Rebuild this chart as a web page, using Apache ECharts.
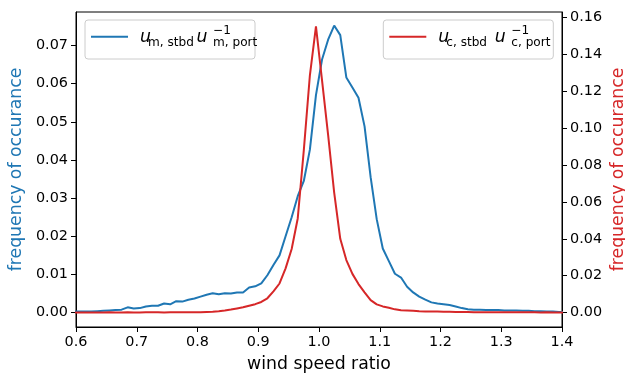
<!DOCTYPE html>
<html>
<head>
<meta charset="utf-8">
<script src="https://cdn.jsdelivr.net/npm/echarts@6/dist/echarts.min.js"></script>
<style>html,body{margin:0;padding:0;background:#fff;}#c{width:625px;height:375px;}</style>
</head>
<body>
<div id="c"></div>
<script>
var ratio = [0.595,0.605,0.615,0.625,0.635,0.645,0.655,0.665,0.675,0.685,0.695,
0.705,0.715,0.725,0.735,0.745,0.755,0.765,0.775,0.785,0.795,
0.805,0.815,0.825,0.835,0.845,0.855,0.865,0.875,0.885,0.895,
0.905,0.915,0.925,0.935,0.945,0.955,0.965,0.975,0.985,0.995,
1.005,1.015,1.025,1.035,1.045,1.055,1.065,1.075,1.085,1.095,
1.105,1.115,1.125,1.135,1.145,1.155,1.165,1.175,1.185,1.195,
1.205,1.215,1.225,1.235,1.245,1.255,1.265,1.275,1.285,1.295,
1.305,1.315,1.325,1.335,1.345,1.355,1.365,1.375,1.385,1.395,1.405];

var freqM = [0.0003,0.0003,0.0003,0.0003,0.0004,0.0005,0.0006,0.0007,0.0008,0.0014,0.0011,
0.0012,0.0016,0.0018,0.0018,0.0024,0.0022,0.0030,0.0029,0.0034,0.0037,
0.0042,0.0047,0.0051,0.0048,0.0051,0.0050,0.0053,0.0053,0.0066,0.0069,
0.0077,0.0098,0.0125,0.0150,0.0200,0.0250,0.0305,0.0345,0.0427,0.0570,
0.0663,0.0715,0.0752,0.0727,0.0616,0.0590,0.0563,0.0488,0.0355,0.0245,
0.0168,0.0135,0.0102,0.0092,0.0068,0.0053,0.0042,0.0034,0.0027,0.0024,
0.0022,0.0020,0.0016,0.0012,0.0009,0.0008,0.0008,0.0007,0.0007,0.0007,
0.0006,0.0006,0.0006,0.0005,0.0005,0.0004,0.0004,0.0003,0.0003,0.0002,0.0002];

var freqC = [0.0001,0.0001,0.0001,0.0001,0.0001,0.0001,0.0002,0.0001,0.0001,0.0002,0.0001,
0.0001,0.0002,0.0002,0.0002,0.0001,0.0002,0.0002,0.0002,0.0002,0.0003,
0.0003,0.0004,0.0005,0.0008,0.0012,0.0017,0.0023,0.0029,0.0038,0.0046,
0.0058,0.0078,0.0115,0.0158,0.0240,0.0345,0.0510,0.0880,0.1285,0.1550,
0.1257,0.0962,0.0650,0.0400,0.0285,0.0210,0.0155,0.0110,0.0068,0.0045,
0.0034,0.0027,0.0018,0.0013,0.0012,0.0010,0.0008,0.0007,0.0006,0.0006,
0.0005,0.0005,0.0004,0.0004,0.0004,0.0003,0.0003,0.0003,0.0003,0.0003,
0.0002,0.0002,0.0002,0.0002,0.0002,0.0002,0.0001,0.0002,0.0001,0.0001,0.0001];

var xTicks = [0.6,0.7,0.8,0.9,1.0,1.1,1.2,1.3,1.4];
var yLeftTicks = [0,0.01,0.02,0.03,0.04,0.05,0.06,0.07];
var yRightTicks = [0,0.02,0.04,0.06,0.08,0.10,0.12,0.14,0.16];

var BLUE = '#1f77b4', RED = '#d62728';
var FONT = 'DejaVu Sans';

function pairs(xs, ys){ return xs.map(function(x,i){ return [x, ys[i]]; }); }

function legendGroup(x0, color, sub){
  var t = function(text, x, y, size, italic){
    return { type:'text', x:x, y:y, style:{ text:text, fill:'#000', fontSize:size, fontFamily:FONT, fontStyle:(italic?'italic':'normal'), align:'left', verticalAlign:'middle' } };
  };
  return {
    type:'group', x:x0, y:0,
    children:[
      { type:'rect', shape:{x:0, y:20, width:170, height:39, r:3}, style:{fill:'rgba(255,255,255,0.8)', stroke:'#cccccc', lineWidth:1} },
      { type:'line', shape:{x1:6, y1:36.7, x2:43, y2:36.7}, style:{stroke:color, lineWidth:2} },
      t('u', 55, 38, 17.3, true),
      t(sub + ', stbd', 63, 42.5, 12.1, false),
      t('u', 111.5, 38, 17.3, true),
      t('\u22121', 128, 31, 12.1, false),
      t(sub + ', port', 128, 42.5, 12.1, false)
    ]
  };
}

var chart = echarts.init(document.getElementById('c'), null, {renderer:'canvas'});
chart.setOption({
  animation:false,
  backgroundColor:'#fff',
  textStyle:{fontFamily:FONT},
  grid:{left:76, right:63, top:12, bottom:48, containLabel:false, outerBoundsMode:'none', show:true, borderColor:'#000', borderWidth:1, backgroundColor:'transparent'},
  xAxis:{
    type:'value', min:0.6, max:1.4,
    axisLine:{show:true, onZero:false, lineStyle:{color:'#000', width:1}},
    splitLine:{show:false},
    axisTick:{show:true, inside:false, length:5, lineStyle:{color:'#000'}, customValues:xTicks},
    axisLabel:{customValues:xTicks, formatter:function(v){return v.toFixed(1);}, color:'#000', fontSize:14.4, fontFamily:FONT, margin:8},
    name:'wind speed ratio', nameLocation:'middle', nameGap:29, nameMoveOverlap:false,
    nameTextStyle:{color:'#000', fontSize:17.3, fontFamily:FONT}
  },
  yAxis:[{
    type:'value', position:'left', min:-0.00375, max:0.07875,
    axisLine:{show:true, onZero:false, lineStyle:{color:'#000', width:1}},
    splitLine:{show:false},
    axisTick:{show:true, length:5, lineStyle:{color:'#000'}, customValues:yLeftTicks},
    axisLabel:{customValues:yLeftTicks, formatter:function(v){return v.toFixed(2);}, color:'#000', fontSize:14.4, fontFamily:FONT, margin:8},
    name:'frequency of occurance', nameLocation:'middle', nameRotate:90, nameGap:51, nameMoveOverlap:false,
    nameTextStyle:{color:BLUE, fontSize:17.3, fontFamily:FONT}
  },{
    type:'value', position:'right', min:-0.00775, max:0.16275,
    axisLine:{show:true, onZero:false, lineStyle:{color:'#000', width:1}},
    splitLine:{show:false},
    axisTick:{show:true, length:5, lineStyle:{color:'#000'}, customValues:yRightTicks},
    axisLabel:{customValues:yRightTicks, formatter:function(v){return v.toFixed(2);}, color:'#000', fontSize:14.4, fontFamily:FONT, margin:8},
    name:'frequency of occurance', nameLocation:'middle', nameRotate:90, nameGap:48, nameMoveOverlap:false,
    nameTextStyle:{color:RED, fontSize:17.3, fontFamily:FONT}
  }],
  series:[{
    type:'line', yAxisIndex:0, data:pairs(ratio, freqM), showSymbol:false, symbol:'none', clip:true,
    lineStyle:{color:BLUE, width:2}, itemStyle:{color:BLUE}, z:2
  },{
    type:'line', yAxisIndex:1, data:pairs(ratio, freqC), showSymbol:false, symbol:'none', clip:true,
    lineStyle:{color:RED, width:2}, itemStyle:{color:RED}, z:3
  }],
  graphic:[ legendGroup(85, BLUE, 'm'), legendGroup(383.3, RED, 'c') ]
});
</script>
</body>
</html>
